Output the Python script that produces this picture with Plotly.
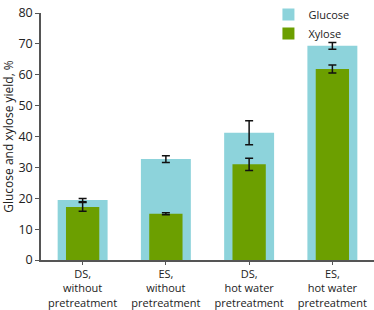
import plotly.graph_objects as go

categories = ["DS,<br>without<br>pretreatment", "ES,<br>without<br>pretreatment",
              "DS,<br>hot water<br>pretreatment", "ES,<br>hot water<br>pretreatment"]
glucose = [19.4, 32.7, 41.2, 69.4]
glucose_err = [0.5, 1.1, 3.9, 1.1]
xylose = [17.2, 15.0, 31.0, 61.9]
xylose_err = [1.4, 0.3, 2.0, 1.3]
y_ticks = [0, 10, 20, 30, 40, 50, 60, 70, 80]

font = "Open Sans, sans-serif"

fig = go.Figure()
fig.add_trace(go.Bar(
    x=categories, y=glucose, name="Glucose", width=0.6,
    marker=dict(color="#8DD3DB", line=dict(width=0)),
    error_y=dict(type="data", array=glucose_err, color="#111111", thickness=1.5, width=4),
))
fig.add_trace(go.Bar(
    x=categories, y=xylose, name="Xylose", width=0.4,
    marker=dict(color="#6C9F00", line=dict(width=0)),
    error_y=dict(type="data", array=xylose_err, color="#111111", thickness=1.5, width=4),
))

fig.update_layout(
    width=374, height=310,
    barmode="overlay",
    paper_bgcolor="white", plot_bgcolor="white",
    margin=dict(l=41, r=0, t=6, b=50),
    font=dict(family=font, size=12, color="#222222"),
    showlegend=True,
    legend=dict(x=0.683, y=1.054, xanchor="left", yanchor="top",
                bgcolor="rgba(0,0,0,0)", font=dict(size=11),
                tracegroupgap=0),
    xaxis=dict(
        showline=True, linecolor="#555555", linewidth=1.5,
        ticks="outside", ticklen=3, tickcolor="#555555",
        showgrid=False, tickfont=dict(size=11), tickangle=0,
        automargin=False,
    ),
    yaxis=dict(
        range=[0, 80.02], tickmode="array", tickvals=y_ticks,
        showline=True, linecolor="#555555", linewidth=1.5,
        ticks="outside", ticklen=4, tickcolor="#555555",
        showgrid=False, zeroline=False, tickfont=dict(size=12.5),
        automargin=False,
        title=dict(text="Glucose and xylose yield, %", font=dict(size=12), standoff=4),
    ),
)

fig.write_html("out.html", config={"displayModeBar": False},
               post_script="document.body.style.margin='0';")
